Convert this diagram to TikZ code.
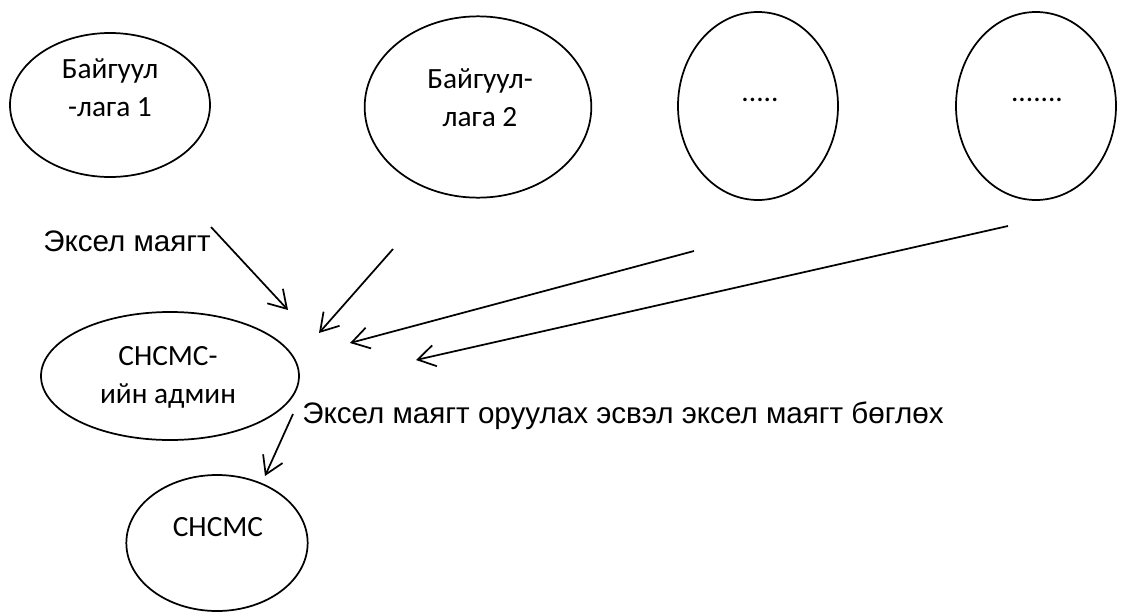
\documentclass[tikz,border=0pt]{standalone}
\usepackage{fontspec}
\setmainfont{Carlito}
\newfontfamily\arialfont{Liberation Sans}
\usetikzlibrary{shapes.geometric,arrows.meta}
\tikzset{
bubble/.style={draw, ellipse, line width=1.3pt, inner sep=0pt}, % the ovals
bubbletext/.style={align=center, font=\fontsize{22}{28.5}\selectfont},
note/.style={anchor=base west, inner sep=0pt, font=\arialfont\fontsize{22.2}{26}\selectfont},
flow/.style={line width=1.3pt, -{Straight Barb[length=13pt,width=16pt,line width=1.3pt]}},
}

\begin{document}
\begin{tikzpicture}[x=0.75pt,y=0.75pt,yscale=-1,xscale=1]
\useasboundingbox (0,0) rectangle (1125,611);
%Ellipse
\node[bubble, minimum width=150pt, minimum height=108pt] (org1) at (110,105) {};
\node[bubble, minimum width=170pt, minimum height=136pt] (org2) at (478,107) {};
\node[bubble, minimum width=120pt, minimum height=141pt] (org3) at (758,106) {};
\node[bubble, minimum width=120pt, minimum height=141pt] (org4) at (1036,106) {};
\node[bubble, minimum width=193.5pt, minimum height=96pt] (admin) at (170,376) {};
\node[bubble, minimum width=136pt, minimum height=102pt] (snsms) at (217,543) {};
%Texts in ellipses
\node[bubbletext] (org1txt) at (110,88) {Байгуул\\-лага 1};
\node[bubbletext] (org2txt) at (480,98) {Байгуул-\\лага 2};
\node[bubbletext] (org3txt) at (760,100) {.....};
\node[bubbletext] (org4txt) at (1037,100) {.......};
\node[bubbletext] (admintxt) at (168,377) {СНСМС-\\ийн админ};
\node[bubbletext] (snsmstxt) at (218,527) {СНСМС};
%Labels
\node[note] (excel) at (43,251) {Эксел маягт};
\node[note] (fill) at (302,423) {Эксел маягт оруулах эсвэл эксел маягт бөглөх};
%Arrow ends
\coordinate (s1) at (211,227);
\coordinate (t1) at (288,310);
\coordinate (s2) at (393,249);
\coordinate (t2) at (319,333);
\coordinate (s3) at (694,251);
\coordinate (t3) at (350,343);
\coordinate (s4) at (1008,226);
\coordinate (t4) at (416,360);
\coordinate (s5) at (293,414);
\coordinate (t5) at (265,476);
%Straight Lines
\draw[flow] (s1) -- (t1);
\draw[flow] (s2) -- (t2);
\draw[flow] (s3) -- (t3);
\draw[flow] (s4) -- (t4);
\draw[flow] (s5) -- (t5);
\end{tikzpicture}
\end{document}
